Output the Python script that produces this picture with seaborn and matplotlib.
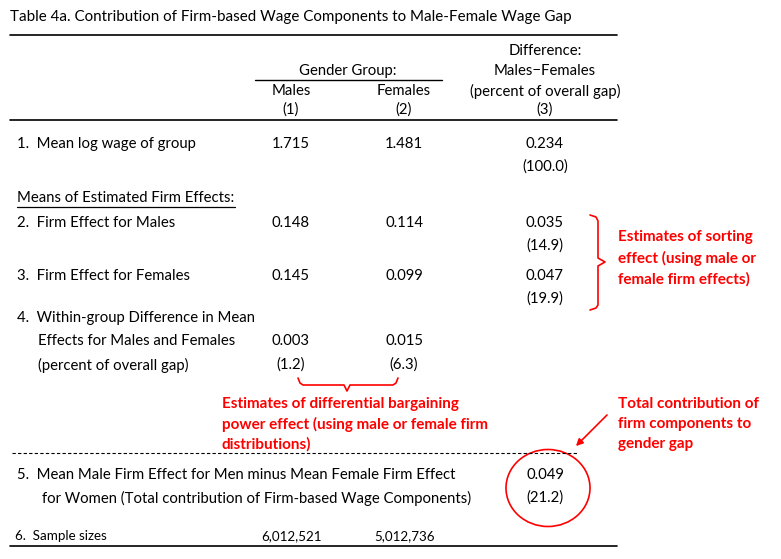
import matplotlib
matplotlib.use("Agg")
import matplotlib.pyplot as plt
from matplotlib.patches import Ellipse
import seaborn as sns

# table data
row_labels = [
    ["1.  Mean log wage of group"],
    ["2.  Firm Effect for Males"],
    ["3.  Firm Effect for Females"],
    ["4.  Within-group Difference in Mean", "Effects for Males and Females", "(percent of overall gap)"],
    ["5.  Mean Male Firm Effect for Men minus Mean Female Firm Effect",
     "for Women (Total contribution of Firm-based Wage Components)"],
]
males = ["1.715", "0.148", "0.145", "0.003"]
females = ["1.481", "0.114", "0.099", "0.015"]
diff = ["0.234", "0.035", "0.047", "", "0.049"]
diff_pct = ["(100.0)", "(14.9)", "(19.9)", "", "(21.2)"]
pct_within = ["(1.2)", "(6.3)"]
sample_sizes = ["6,012,521", "5,012,736"]

sns.set_theme(style="white")
plt.rcParams["font.family"] = ["Lato", "DejaVu Sans"]

fig = plt.figure(figsize=(7.81, 5.59), dpi=100)
ax = fig.add_axes([0, 0, 1, 1])
ax.set_xlim(0, 781)
ax.set_ylim(559, 0)
ax.axis("off")

fs = 10.7
rfs = 11
red = "#ff0000"
xm, xf, xd = 291, 404, 545

def txt(x, y, s, ha="left", size=fs, **kw):
    ax.text(x, y, s, ha=ha, va="center", fontsize=size, color="black", **kw)

txt(10, 17, "Table 4a. Contribution of Firm-based Wage Components to Male-Female Wage Gap", size=10.9)

# header
ax.plot([10, 617], [35, 35], color="black", lw=1.2)
txt(xd, 51, "Difference:", ha="center")
txt(348, 71, "Gender Group:", ha="center")
ax.plot([255, 442], [80, 80], color="black", lw=1)
txt(xd, 71, "Males\u2212Females", ha="center")
txt(xm, 91, "Males", ha="center")
txt(xf, 91, "Females", ha="center")
txt(xd, 91, "(percent of overall gap)", ha="center")
txt(xm, 110, "(1)", ha="center")
txt(xf, 110, "(2)", ha="center")
txt(xd, 110, "(3)", ha="center")
ax.plot([10, 617], [120, 120], color="black", lw=1.2)

# row 1
txt(17, 144, row_labels[0][0])
txt(xm, 144, males[0], ha="center")
txt(xf, 144, females[0], ha="center")
txt(xd, 144, diff[0], ha="center")
txt(xd, 167, diff_pct[0], ha="center")

txt(17, 198, "Means of Estimated Firm Effects:")
ax.plot([17, 235], [207, 207], color="black", lw=0.9)

# rows 2, 3
for i, y in [(1, 223), (2, 276)]:
    txt(17, y, row_labels[i][0])
    txt(xm, y, males[i], ha="center")
    txt(xf, y, females[i], ha="center")
    txt(xd, y, diff[i], ha="center")
    txt(xd, y + 23, diff_pct[i], ha="center")

# row 4
txt(17, 318, row_labels[3][0])
txt(38, 341, row_labels[3][1])
txt(38, 365, row_labels[3][2])
txt(xm, 341, males[3], ha="center")
txt(xf, 341, females[3], ha="center")
txt(xm, 365, pct_within[0], ha="center")
txt(xf, 365, pct_within[1], ha="center")

# bottom brace under row 4
bx = [298, 300, 303, 344, 347, 350, 393, 396, 398]
by = [378, 383, 385, 385, 391, 385, 385, 383, 378]
ax.plot(bx, by, color=red, lw=1.2)

# right brace for sorting
rx = [590, 596, 598, 598, 605, 598, 598, 596, 590]
ry = [215, 217, 221, 258, 262, 266, 305, 308, 310]
ax.plot(rx, ry, color=red, lw=1.2)

for j, s in enumerate(["Estimates of sorting", "effect (using male or", "female firm effects)"]):
    ax.text(618, 237 + j * 21, s, ha="left", va="center", fontsize=rfs, color=red, fontweight="bold")

for j, s in enumerate(["Estimates of differential bargaining",
                       "power effect (using male or female firm",
                       "distributions)"]):
    ax.text(222, 404 + j * 20, s, ha="left", va="center", fontsize=rfs, color=red, fontweight="bold")

for j, s in enumerate(["Total contribution of", "firm components to", "gender gap"]):
    ax.text(618, 404 + j * 20, s, ha="left", va="center", fontsize=rfs, color=red, fontweight="bold")

ax.annotate("", xy=(574, 448), xytext=(609, 413),
            arrowprops=dict(arrowstyle="-|>", color=red, lw=1.2, mutation_scale=10))

# dashed separator
ax.plot([12, 577], [453, 453], color="black", lw=0.8, ls=(0, (3, 2)))

# row 5
txt(17, 475, row_labels[4][0])
txt(42, 498, row_labels[4][1])
txt(xd, 475, diff[4], ha="center")
txt(xd, 498, diff_pct[4], ha="center")
ax.add_patch(Ellipse((548, 488), 84, 77, fill=False, edgecolor=red, lw=1.2))

# row 6
txt(15, 536, "6.  Sample sizes", size=9.6)
txt(292, 536, sample_sizes[0], ha="center", size=9.6)
txt(405, 536, sample_sizes[1], ha="center", size=9.6)
ax.plot([10, 617], [546, 546], color="black", lw=1.2)

fig.savefig("out.png", dpi=100, facecolor="white")
